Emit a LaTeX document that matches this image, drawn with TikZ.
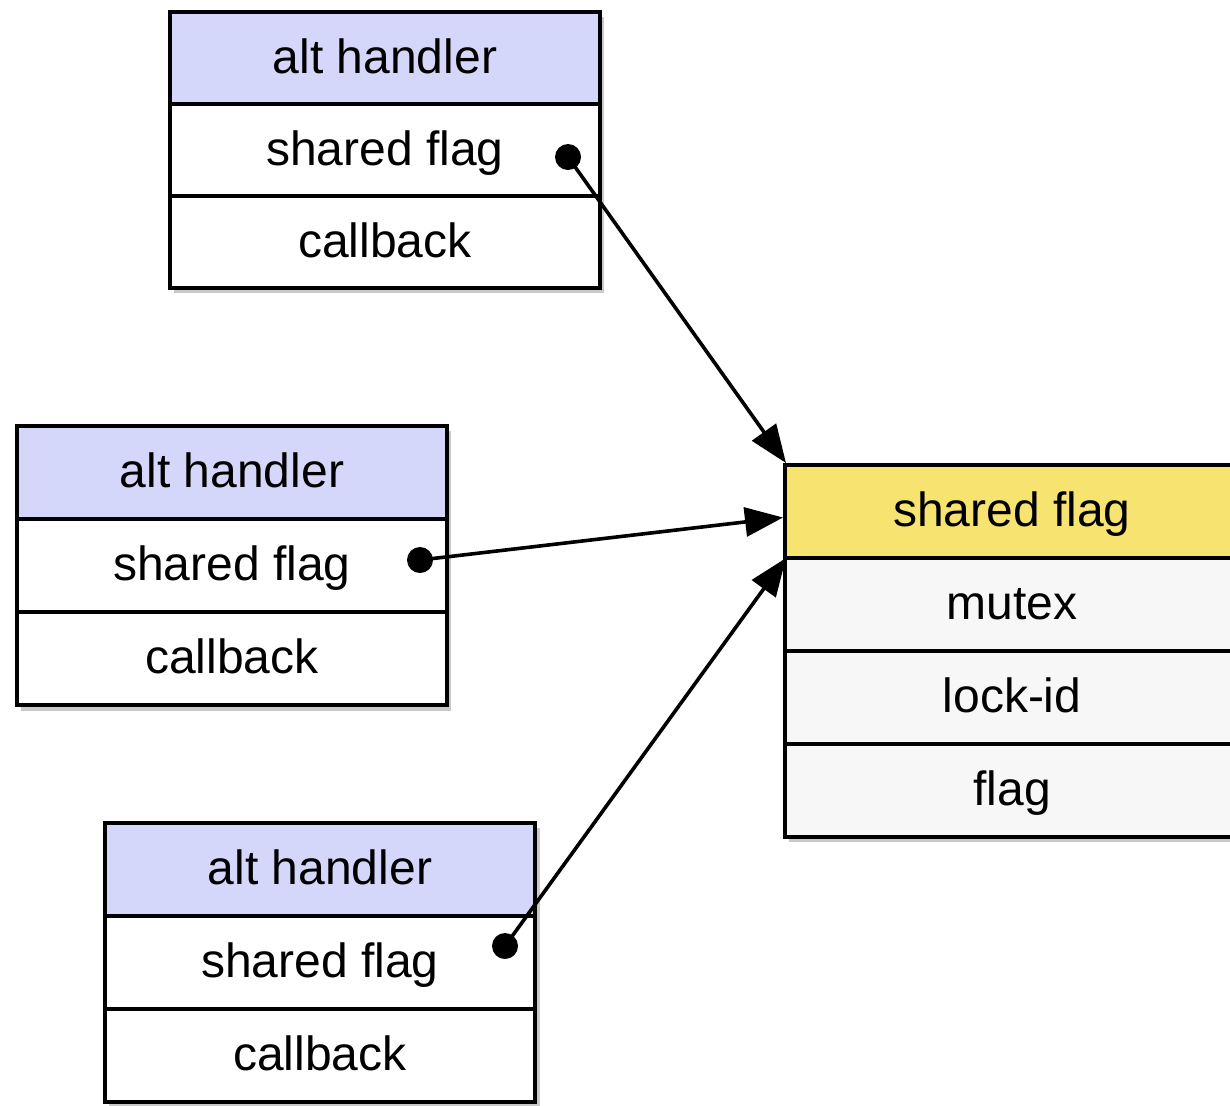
\documentclass[tikz,border=0pt]{standalone}
\usepackage{fontspec}
\setmainfont{Liberation Sans}
\usetikzlibrary{arrows.meta,shadows}
\definecolor{hdrblue}{RGB}{213,215,250}
\definecolor{hdryellow}{RGB}{246,227,112}
\definecolor{rowgray}{RGB}{247,247,247}
\tikzset{
  cell/.style={draw, line width=1.9pt, inner sep=0pt, outer sep=0pt,
    text height=17pt, text depth=2pt,
    anchor=north west, font=\fontsize{24}{28}\selectfont},
  altcell/.style={cell, minimum width=215pt, minimum height=46.5pt},
  flagcell/.style={cell, minimum width=227pt, minimum height=46.5pt, fill=rowgray},
  boxshade/.style={fill=white, drop shadow={shadow xshift=2pt, shadow yshift=-2.5pt,
    opacity=0.3, fill=black!70}},
  dot/.style={circle, fill=black, inner sep=0pt, minimum size=13pt},
  link/.style={line width=1.8pt, -{Triangle[length=19pt, width=14.5pt]}}
}
\begin{document}
\begin{tikzpicture}[x=0.5pt, y=-0.5pt]
  \useasboundingbox (0,0) rectangle (1230,1105);

  % shadows behind each record
  \path[boxshade] (170,12) rectangle (600,288);
  \path[boxshade] (17,426) rectangle (447,706);
  \path[boxshade] (105,823) rectangle (536,1103);
  \path[boxshade] (785,465) rectangle (1239,837);

  % first alt handler
  \node[altcell, fill=hdrblue, minimum height=46pt] (a1) at (170,12) {alt handler};
  \node[altcell, fill=white, minimum height=46pt] (a1f) at (a1.south west) {shared flag};
  \node[altcell, fill=white, minimum height=46pt] (a1c) at (a1f.south west) {callback};

  % second alt handler
  \node[altcell, fill=hdrblue] (a2) at (17,426) {alt handler};
  \node[altcell, fill=white] (a2f) at (a2.south west) {shared flag};
  \node[altcell, fill=white] (a2c) at (a2f.south west) {callback};

  % third alt handler
  \node[altcell, fill=hdrblue] (a3) at (105,823) {alt handler};
  \node[altcell, fill=white] (a3f) at (a3.south west) {shared flag};
  \node[altcell, fill=white] (a3c) at (a3f.south west) {callback};

  % the shared flag record
  \node[flagcell, fill=hdryellow] (s1) at (785,465) {shared flag};
  \node[flagcell] (s2) at (s1.south west) {mutex};
  \node[flagcell] (s3) at (s2.south west) {lock-id};
  \node[flagcell] (s4) at (s3.south west) {flag};

  % pointer origins
  \node[dot] (d1) at (568,157) {};
  \node[dot] (d2) at (420,560) {};
  \node[dot] (d3) at (505,946) {};

  % pointer targets on the shared flag record
  \coordinate (t1) at ([xshift=0.5pt, yshift=1pt]s1.north west);
  \coordinate (t2) at ([xshift=-1pt, yshift=-3pt]s1.west);
  \coordinate (t3) at ([xshift=0.5pt]s2.north west);

  \draw[link] (d1.center) -- (t1);
  \draw[link] (d2.center) -- (t2);
  \draw[link] (d3.center) -- (t3);
\end{tikzpicture}
\end{document}
